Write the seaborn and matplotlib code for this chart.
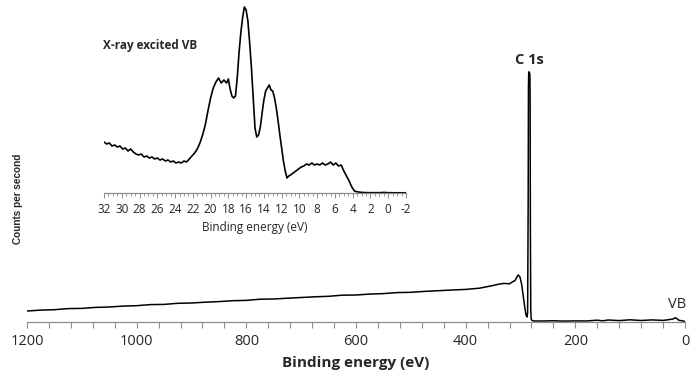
import numpy as np
import pandas as pd
import seaborn as sns
import matplotlib.pyplot as plt
from matplotlib.ticker import MultipleLocator

# survey spectrum (binding energy in eV, counts in arbitrary units)
survey_be = [1200, 1175, 1150, 1125, 1100, 1075, 1050, 1025, 1000, 975, 950, 925,
             900, 875, 850, 825, 800, 775, 750, 725, 700, 675, 650, 625, 600, 575,
             550, 525, 500, 475, 450, 425, 400, 375, 350, 340, 330, 320, 315, 310,
             306, 304, 301, 298, 295, 292, 290, 288, 287, 286, 285.5, 285, 284,
             283, 282.5, 282, 281.3, 280.5, 279, 275, 260, 240, 220, 200, 180,
             160, 150, 140, 120, 100, 80, 60, 40, 30, 22, 18, 15, 12, 9, 5, 2, 0]
survey_counts = [11.0, 11.9, 12.3, 13.4, 13.6, 14.6, 15.0, 15.9, 16.3, 17.4, 17.6, 18.7,
                 19.0, 19.8, 20.4, 21.3, 21.6, 22.8, 23.0, 23.8, 24.5, 25.2, 25.7, 26.8,
                 27.0, 27.9, 28.4, 29.4, 29.7, 30.6, 31.3, 32.0, 32.6, 33.8, 36.5, 37.8,
                 38.6, 38.2, 40.0, 41.5, 45.5, 47.0, 45.0, 38.0, 26.0, 14.0, 7.0, 5.0,
                 9.0, 120.0, 235.0, 250.0, 250.0, 248.0, 230.0, 100.0, 12.0, 3.0, 1.5,
                 1.0, 1.0, 1.2, 0.9, 1.1, 1.0, 1.8, 1.2, 2.0, 1.4, 2.2, 1.5, 2.1, 1.6,
                 2.3, 3.0, 4.2, 3.5, 2.0, 1.5, 1.2, 0.8, 0.5]

# X-ray excited valence band (inset)
vb_be = [32.0, 31.7, 31.4, 31.1, 30.8, 30.5, 30.2, 29.9, 29.6, 29.3, 29.0, 28.7,
         28.4, 28.1, 27.8, 27.5, 27.2, 26.9, 26.6, 26.3, 26.0, 25.7, 25.4, 25.1,
         24.8, 24.5, 24.2, 23.9, 23.6, 23.3, 23.0, 22.7, 22.4, 22.1, 21.8, 21.5,
         21.2, 20.9, 20.6, 20.3, 20.0, 19.7, 19.4, 19.1, 18.8, 18.5, 18.2, 18.0,
         17.8, 17.6, 17.4, 17.2, 17.0, 16.8, 16.6, 16.4, 16.2, 16.0, 15.8, 15.6,
         15.4, 15.2, 15.0, 14.8, 14.6, 14.4, 14.2, 14.0, 13.8, 13.6, 13.4, 13.2,
         13.0, 12.8, 12.6, 12.4, 12.2, 12.0, 11.8, 11.6, 11.4, 11.2, 11.0, 10.7,
         10.4, 10.1, 9.8, 9.5, 9.2, 8.9, 8.6, 8.3, 8.0, 7.7, 7.4, 7.1, 6.8, 6.5,
         6.2, 5.9, 5.6, 5.3, 5.0, 4.7, 4.4, 4.1, 3.8, 3.5, 3.0, 2.5, 2.0, 1.0,
         0.5, 0.0, -1.0, -2.0]
vb_counts = [51, 49, 50, 47, 48, 46, 47, 44, 45, 42, 44, 41,
             39, 38, 39, 36, 37, 35, 36, 34, 35, 33, 34, 32,
             33, 31, 32, 30, 31, 30, 32, 31, 34, 37, 40, 44,
             50, 58, 68, 82, 95, 105, 111, 115, 110, 113, 110, 114,
             104, 97, 95, 97, 115, 140, 160, 175, 186, 183, 172, 150,
             125, 95, 65, 56, 58, 66, 80, 93, 102, 105, 108, 103,
             102, 95, 85, 72, 58, 45, 32, 22, 15, 17, 18, 20,
             22, 24, 26, 27, 29, 28, 30, 28, 29, 28, 30, 28, 29, 31,
             28, 30, 27, 28, 22, 17, 12, 6, 2, 1.2, 0.6, 0.4, 0.3, 0.3,
             0.6, 0.3, 0.2, 0.2]

survey_df = pd.DataFrame({"be": survey_be, "counts": survey_counts})
vb_df = pd.DataFrame({"be": vb_be, "counts": vb_counts})

sns.set_style("white")
plt.rcParams["font.family"] = ["Open Sans", "DejaVu Sans"]

W, H = 700, 383
fig = plt.figure(figsize=(7, 3.83), dpi=100)

axis_gray = "#8c8c8c"

## main survey
ax = fig.add_axes([27 / W, 1 - 322 / H, 658 / W, 317 / H])
sns.lineplot(data=survey_df, x="be", y="counts", ax=ax, color="black",
             linewidth=1.1, sort=False)
ax.set_xlim(1200, 0)
ax.set_ylim(0, 317)
ax.set_yticks([])
ax.set_ylabel("")
ax.xaxis.set_major_locator(MultipleLocator(200))
ax.xaxis.set_minor_locator(MultipleLocator(40))
ax.tick_params(axis="x", which="both", direction="out", length=4.5, width=0.8,
               color=axis_gray, bottom=True, pad=4, labelsize=10.5)
for s in ["left", "top", "right"]:
    ax.spines[s].set_visible(False)
ax.spines["bottom"].set_color(axis_gray)
ax.spines["bottom"].set_linewidth(0.9)
ax.set_xlabel("Binding energy (eV)", fontsize=11, fontweight="bold", labelpad=5)
ax.patch.set_alpha(0)

ax.text(284, 255, "C 1s", fontsize=10.5, fontweight="bold", ha="center", va="bottom")
ax.text(15, 10, "VB", fontsize=10.5, ha="center", va="bottom")

fig.text(18 / W, 1 - 199 / H, "Counts per second", rotation=90, ha="center",
         va="center", fontsize=7.2, fontweight="bold",
         family=["Liberation Sans", "DejaVu Sans"])

## inset valence band
ins = fig.add_axes([104 / W, 1 - 193 / H, 302 / W, 190 / H])
sns.lineplot(data=vb_df, x="be", y="counts", ax=ins, color="black",
             linewidth=1.2, sort=False)
ins.set_xlim(32, -2)
ins.set_ylim(0, 190)
ins.set_yticks([])
ins.set_ylabel("")
ins.set_xticks(range(32, -3, -2))
ins.set_xticklabels([str(t) for t in range(32, -3, -2)])
ins.xaxis.set_minor_locator(MultipleLocator(0.5))
ins.tick_params(axis="x", which="major", direction="out", length=3.5, width=0.7,
                color=axis_gray, bottom=True, pad=3.5, labelsize=8.5)
ins.tick_params(axis="x", which="minor", direction="out", length=2.5, width=0.6,
                color=axis_gray, bottom=True)
for s in ["left", "top", "right"]:
    ins.spines[s].set_visible(False)
ins.spines["bottom"].set_color(axis_gray)
ins.spines["bottom"].set_linewidth(0.9)
ins.set_xlabel("Binding energy (eV)", fontsize=8.5, labelpad=4)
ins.patch.set_alpha(0)
ins.set_xlim(32, -2)

fig.text(103 / W, 1 - 45 / H, "X-ray excited VB", fontsize=8.5, fontweight="bold",
         ha="left", va="center")

fig.savefig("out.png", dpi=100)
